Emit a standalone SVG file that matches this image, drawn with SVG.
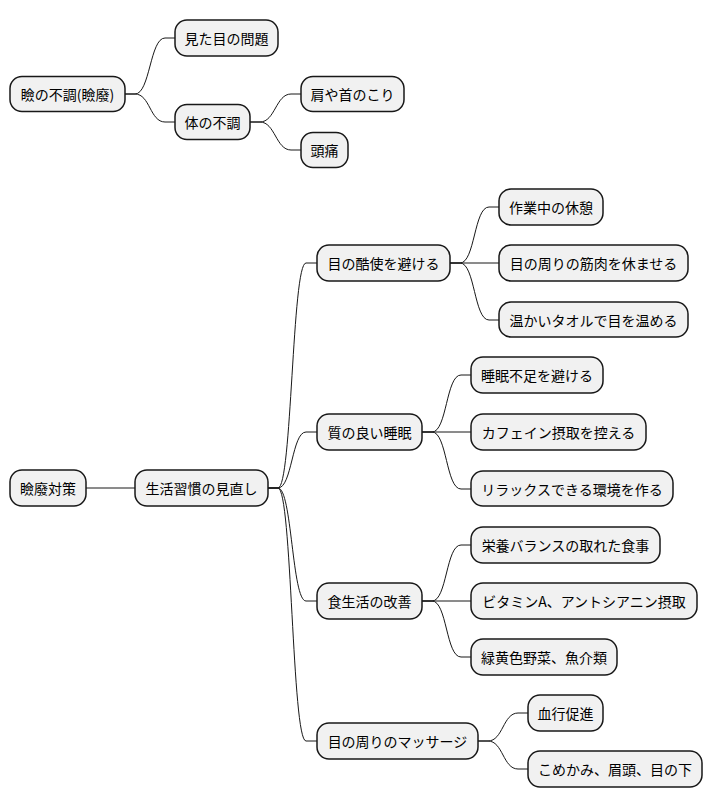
<svg xmlns="http://www.w3.org/2000/svg" width="712" height="809" viewBox="0 0 712 809">
<style>
.n rect{fill:#F1F1F1;stroke:#181818;stroke-width:1.5}
.n text{font-family:"Noto Sans CJK JP","Noto Sans",sans-serif;font-size:14px;fill:#000;text-anchor:middle;dominant-baseline:central}
.e path{fill:none;stroke:#181818;stroke-width:1}
</style>
<rect width="712" height="809" fill="#FFFFFF"/>
<g class="e" id="connectors">
<path d="M125,94 L135,94 C150,94 150,38 165,38 L175,38"/>
<path d="M125,94 L135,94 C150,94 150,122 165,122 L175,122"/>
<path d="M250,122 L260,122 C275,122 276,94 291,94 L301,94"/>
<path d="M250,122 L260,122 C275,122 276,150 291,150 L301,150"/>
<path d="M86,488 L135,488"/>
<path d="M268,488 L278,488 C292,488 292,263 306,263 L317,263"/>
<path d="M268,488 L278,488 C292,488 292,432 306,432 L317,432"/>
<path d="M268,488 L278,488 C292,488 292,601 306,601 L317,601"/>
<path d="M268,488 L278,488 C292,488 292,741 306,741 L317,741"/>
<path d="M450,263 L460,263 C475,263 474,207 489,207 L499,207"/>
<path d="M450,263 L499,263"/>
<path d="M450,263 L460,263 C475,263 474,320 489,320 L499,320"/>
<path d="M422,432 L432,432 C447,432 446,375 461,375 L471,375"/>
<path d="M422,432 L471,432"/>
<path d="M422,432 L432,432 C447,432 446,489 461,489 L471,489"/>
<path d="M422,601 L432,601 C447,601 446,545 461,545 L471,545"/>
<path d="M422,601 L471,601"/>
<path d="M422,601 L432,601 C447,601 446,657 461,657 L471,657"/>
<path d="M478,741 L488,741 C503,741 503,713 518,713 L528,713"/>
<path d="M478,741 L488,741 C503,741 503,769 518,769 L528,769"/>
</g>
<g class="n" id="n1"><rect x="10" y="76.5" width="115" height="35" rx="12"/><text x="67.5" y="94">瞼の不調(瞼廢)</text></g>
<g class="n" id="n2"><rect x="175" y="20" width="103" height="36" rx="12"/><text x="226.5" y="38">見た目の問題</text></g>
<g class="n" id="n3"><rect x="175" y="104.5" width="75" height="35" rx="12"/><text x="212.5" y="122">体の不調</text></g>
<g class="n" id="n4"><rect x="301" y="76.5" width="103" height="35" rx="12"/><text x="352.5" y="94">肩や首のこり</text></g>
<g class="n" id="n5"><rect x="301" y="132.5" width="47" height="35" rx="12"/><text x="324.5" y="150">頭痛</text></g>
<g class="n" id="m0"><rect x="10" y="470" width="76" height="36" rx="12"/><text x="48" y="488">瞼廢対策</text></g>
<g class="n" id="m1"><rect x="135" y="470" width="133" height="36" rx="12"/><text x="201.5" y="488">生活習慣の見直し</text></g>
<g class="n" id="m2"><rect x="317" y="245" width="133" height="36" rx="12"/><text x="383.5" y="263">目の酷使を避ける</text></g>
<g class="n" id="m21"><rect x="499" y="189" width="104" height="36" rx="12"/><text x="551" y="207">作業中の休憩</text></g>
<g class="n" id="m22"><rect x="499" y="245" width="189" height="36" rx="12"/><text x="593.5" y="263">目の周りの筋肉を休ませる</text></g>
<g class="n" id="m23"><rect x="499" y="302" width="189" height="35" rx="12"/><text x="593.5" y="319.5">温かいタオルで目を温める</text></g>
<g class="n" id="m3"><rect x="317" y="414" width="105" height="36" rx="12"/><text x="369.5" y="432">質の良い睡眠</text></g>
<g class="n" id="m31"><rect x="471" y="357" width="132" height="36" rx="12"/><text x="537" y="375">睡眠不足を避ける</text></g>
<g class="n" id="m32"><rect x="471" y="414" width="175" height="36" rx="12"/><text x="558.5" y="432">カフェイン摂取を控える</text></g>
<g class="n" id="m33"><rect x="471" y="471" width="202" height="35" rx="12"/><text x="572" y="488.5">リラックスできる環境を作る</text></g>
<g class="n" id="m4"><rect x="317" y="583" width="105" height="36" rx="12"/><text x="369.5" y="601">食生活の改善</text></g>
<g class="n" id="m41"><rect x="471" y="527" width="189" height="36" rx="12"/><text x="565.5" y="545">栄養バランスの取れた食事</text></g>
<g class="n" id="m42"><rect x="471" y="583" width="226" height="36" rx="12"/><text x="584" y="601">ビタミンA、アントシアニン摂取</text></g>
<g class="n" id="m43"><rect x="471" y="639" width="146" height="36" rx="12"/><text x="544" y="657">緑黄色野菜、魚介類</text></g>
<g class="n" id="m5"><rect x="317" y="723" width="161" height="36" rx="12"/><text x="397.5" y="741">目の周りのマッサージ</text></g>
<g class="n" id="m51"><rect x="528" y="695" width="75" height="36" rx="12"/><text x="565.5" y="713">血行促進</text></g>
<g class="n" id="m52"><rect x="528" y="751" width="174" height="36" rx="12"/><text x="615" y="769">こめかみ、眉頭、目の下</text></g>
</svg>
